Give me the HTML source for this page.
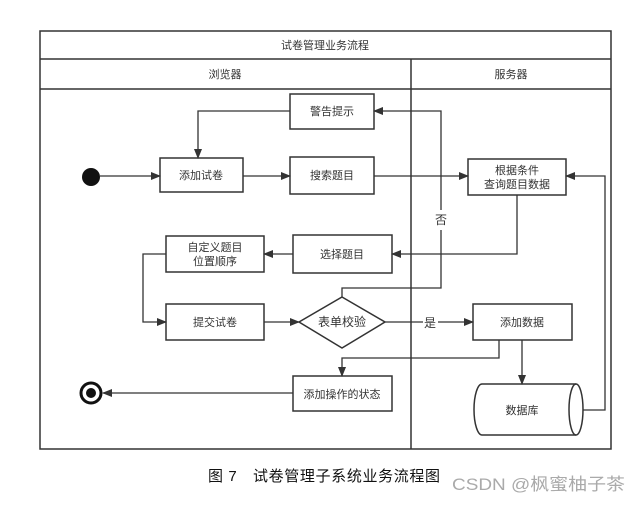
<!DOCTYPE html>
<html><head><meta charset="utf-8"><style>
html,body{margin:0;padding:0;background:#fff;}
svg text{font-family:"Liberation Sans","Noto Sans CJK SC",sans-serif;}
</style></head><body>
<svg width="639" height="507" viewBox="0 0 639 507" xmlns="http://www.w3.org/2000/svg">
<defs><marker id="a" markerWidth="10" markerHeight="8" refX="9" refY="4" orient="auto" markerUnits="userSpaceOnUse"><path d="M0,0 L10,4 L0,8 Z" fill="#333"/></marker></defs>
<g fill="none" stroke="#333" stroke-width="1.5">
<rect x="40" y="31" width="571" height="418"/>
<line x1="40" y1="59" x2="611" y2="59"/>
<line x1="40" y1="89" x2="611" y2="89"/>
<line x1="411" y1="59" x2="411" y2="449"/>
<rect x="290" y="94" width="84" height="35"/>
<rect x="160" y="158" width="83" height="34"/>
<rect x="290" y="157" width="84" height="37"/>
<rect x="468" y="159" width="98" height="36"/>
<rect x="166" y="236" width="98" height="36"/>
<rect x="293" y="235" width="99" height="38"/>
<rect x="166" y="304" width="98" height="36"/>
<polygon points="342,297 385,322 342,348 299,322"/>
<rect x="473" y="304" width="99" height="36"/>
<rect x="293" y="376" width="99" height="35"/>
<path d="M482,384 L576,384 A7,25.5 0 0 1 576,435 L482,435 A8,25.5 0 0 1 482,384 Z"/>
<path d="M576,384 A7,25.5 0 0 0 576,435"/>
</g>
<g fill="none" stroke="#333" stroke-width="1.3">
<line x1="100" y1="176" x2="160" y2="176" marker-end="url(#a)"/>
<line x1="243" y1="176" x2="290" y2="176" marker-end="url(#a)"/>
<line x1="374" y1="176" x2="468" y2="176" marker-end="url(#a)"/>
<polyline points="290,111 198,111 198,158" marker-end="url(#a)"/>
<polyline points="517,195 517,254 392,254" marker-end="url(#a)"/>
<line x1="293" y1="254" x2="264" y2="254" marker-end="url(#a)"/>
<polyline points="166,254 143,254 143,322 166,322" marker-end="url(#a)"/>
<line x1="264" y1="322" x2="299" y2="322" marker-end="url(#a)"/>
<polyline points="342,297 342,288 441,288 441,230"/>
<polyline points="441,210 441,111 374,111" marker-end="url(#a)"/>
<line x1="385" y1="322" x2="423" y2="322"/>
<line x1="438" y1="322" x2="473" y2="322" marker-end="url(#a)"/>
<polyline points="499,340 499,358 342,358 342,376" marker-end="url(#a)"/>
<line x1="522" y1="340" x2="522" y2="384" marker-end="url(#a)"/>
<polyline points="583,410 605,410 605,176 566,176" marker-end="url(#a)"/>
<line x1="293" y1="393" x2="103" y2="393" marker-end="url(#a)"/>
</g>
<circle cx="91" cy="177" r="9" fill="#111"/>
<circle cx="91" cy="393" r="10" fill="#fff" stroke="#111" stroke-width="3"/>
<circle cx="91" cy="393" r="5" fill="#111"/>
<g font-size="11" fill="#333" text-anchor="middle">
<text x="325" y="49">试卷管理业务流程</text>
<text x="225" y="78">浏览器</text>
<text x="511" y="78">服务器</text>
<text x="332" y="115">警告提示</text>
<text x="201" y="179">添加试卷</text>
<text x="332" y="179">搜索题目</text>
<text x="517" y="174">根据条件</text>
<text x="517" y="188">查询题目数据</text>
<text x="215" y="251">自定义题目</text>
<text x="215" y="265">位置顺序</text>
<text x="342" y="258">选择题目</text>
<text x="215" y="326">提交试卷</text>
<text x="342" y="326" font-size="12">表单校验</text>
<text x="522" y="326">添加数据</text>
<text x="342" y="398">添加操作的状态</text>
<text x="522" y="414">数据库</text>
<text x="441" y="224" font-size="12">否</text>
<text x="430" y="327" font-size="12">是</text>
</g>
<text x="208" y="481" font-size="15" fill="#111" textLength="232" lengthAdjust="spacing">图 7　试卷管理子系统业务流程图</text>
<text x="452" y="490" font-size="17" fill="#aaa" textLength="173" lengthAdjust="spacingAndGlyphs">CSDN @枫蜜柚子茶</text>
</svg>
</body></html>
